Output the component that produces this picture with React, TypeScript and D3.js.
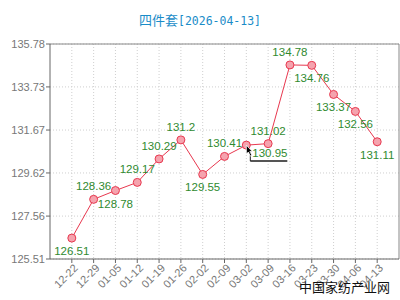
import React from "react";
import * as d3 from "d3";

const categories = ["12-22","12-29","01-05","01-12","01-19","01-26","02-02","02-09","03-02","03-09","03-16","03-23","03-30","04-06","04-13"];
const values = [126.51,128.36,128.78,129.17,130.29,131.2,129.55,130.41,130.95,131.02,134.78,134.76,133.37,132.56,131.11];
const labelPlacement = ["b","t","b","t","t","t","b","t","hover","t","t","b","b","b","b"];
const yTicks = [125.51,127.56,129.62,131.67,133.73,135.78];
const title = "四件套";
const titleDate = "[2026-04-13]";
const watermark = "中国家纺产业网";

export default function App() {
  const W = 400, H = 300;
  const left = 50, right = 399, top = 44, bottom = 259;
  const x = d3.scalePoint<string>().domain(categories).range([left, right]).padding(1);
  const y = d3.scaleLinear().domain([125.51, 135.78]).range([bottom, top]);
  const line = d3.line<number>().x((_, i) => x(categories[i])!).y(d => y(d));
  const font = "'Liberation Sans', Arial, sans-serif";
  const hoverIdx = labelPlacement.indexOf("hover");
  const hx = x(categories[hoverIdx])!, hy = y(values[hoverIdx]);
  return (
    <svg width={W} height={H} style={{ position: "absolute", left: 0, top: 0, background: "#fff" }}>
      <rect width={W} height={H} fill="#fff" />
      <text x={200} y={25} textAnchor="middle" fill="#1a8cc8" fontSize={13}>
        <tspan fontFamily="'Noto Sans CJK SC'">{title}</tspan>
        <tspan fontFamily="'DejaVu Sans Mono'" fontSize={11.5}>{titleDate}</tspan>
      </text>
      {/* grid */}
      {yTicks.map((t, i) => (
        <line key={"gy" + i} x1={left} x2={right} y1={y(t)} y2={y(t)} stroke="#cfcfcf" strokeDasharray="1,2" />
      ))}
      {categories.map((c, i) => (
        <line key={"gx" + i} x1={x(c)} x2={x(c)} y1={top} y2={bottom} stroke="#cfcfcf" strokeDasharray="1,2" />
      ))}
      {/* frame */}
      <line x1={left} x2={right} y1={top} y2={top} stroke="#888" />
      <line x1={right} x2={right} y1={top} y2={bottom} stroke="#888" />
      <line x1={left} x2={left} y1={top} y2={bottom} stroke="#666" />
      <line x1={left} x2={right} y1={bottom} y2={bottom} stroke="#666" />
      {/* y ticks */}
      {yTicks.map((t, i) => (
        <g key={"yt" + i}>
          <line x1={left - 4} x2={left} y1={y(t)} y2={y(t)} stroke="#666" />
          <text x={left - 5} y={y(t)} dy="0.35em" textAnchor="end" fontSize={11} fill="#777" fontFamily={font}>{t.toFixed(2)}</text>
        </g>
      ))}
      {/* x ticks */}
      {categories.map((c, i) => (
        <g key={"xt" + i}>
          <line x1={x(c)} x2={x(c)} y1={bottom} y2={bottom + 4} stroke="#666" />
          <text transform={`translate(${x(c)! + 4},${bottom + 7}) rotate(-45)`} dy="0.35em" textAnchor="end" fontSize={11} fill="#777" fontFamily={font}>{c}</text>
        </g>
      ))}
      <path d={line(values) || ""} fill="none" stroke="#e8384f" strokeWidth={1} />
      {values.map((v, i) => (
        <circle key={"p" + i} cx={x(categories[i])} cy={y(v)} r={4} fill="#f5a3ae" stroke="#e8384f" strokeWidth={1} />
      ))}
      {values.map((v, i) => {
        const px = x(categories[i])!, py = y(v);
        const p = labelPlacement[i];
        if (p === "hover") {
          return <text key={"l" + i} x={px + 6} y={py + 12} fontSize={11.5} fill="#2f8a2f" fontFamily={font}>{String(v)}</text>;
        }
        const ty = p === "t" ? py - 9 : py + 17;
        return <text key={"l" + i} x={px} y={ty} textAnchor="middle" fontSize={11.5} fill="#2f8a2f" fontFamily={font}>{String(v)}</text>;
      })}
      {/* hover underline and cursor */}
      <line x1={hx + 4} x2={hx + 41} y1={hy + 16} y2={hy + 16} stroke="#555" strokeWidth={2} />
      <path d={`M${hx + 4},${hy + 7} L${hx + 4},${hy + 16}`} stroke="#222" strokeWidth={1} />
      <path d={`M${hx},${hy} L${hx},${hy + 9} L${hx + 2},${hy + 7} L${hx + 4},${hy + 11} L${hx + 5.5},${hy + 10} L${hx + 3.5},${hy + 6.5} L${hx + 6},${hy + 6.5} Z`} fill="#000" stroke="#fff" strokeWidth={0.8} />
      <text x={390} y={292} textAnchor="end" fontSize={13} fill="#111" fontFamily="'Noto Sans CJK SC'">{watermark}</text>
    </svg>
  );
}
